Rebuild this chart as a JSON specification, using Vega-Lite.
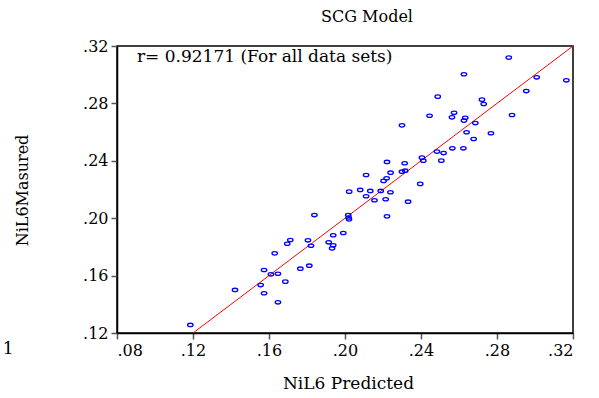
{
  "$schema": "https://vega.github.io/schema/vega-lite/v6.json",
  "autosize": {"type": "none"},
  "width": 456,
  "height": 287,
  "padding": {"left": 117, "top": 46, "right": 26, "bottom": 65},
  "background": "white",
  "title": {"text": "SCG Model", "font": "DejaVu Serif", "fontSize": 16, "fontWeight": "normal", "color": "#000", "anchor": "middle", "dx": 22, "offset": 13},
  "config": {
    "view": {"stroke": "#000", "strokeWidth": 1.5},
    "axis": {"labelFont": "DejaVu Serif", "labelFontSize": 16, "labelColor": "#000", "titleFont": "DejaVu Serif", "titleFontSize": 17, "titleFontWeight": "normal", "titleColor": "#000", "grid": false, "domainColor": "#000", "domainWidth": 1.5, "tickColor": "#555", "tickWidth": 1.5, "tickSize": 6}
  },
  "layer": [
    {
      "data": {"values": [{"px": 0.12, "my": 0.12}, {"px": 0.32, "my": 0.32}]},
      "mark": {"type": "line", "color": "#ff0000", "strokeWidth": 1, "clip": true},
      "encoding": {
        "x": {"field": "px", "type": "quantitative", "scale": {"domain": [0.08, 0.32], "nice": false, "zero": false},
          "axis": {"values": [0.08, 0.12, 0.16, 0.2, 0.24, 0.28, 0.32], "labelExpr": "replace(format(datum.value, '.2f'), '0.', '.')", "title": "NiL6 Predicted", "titleX": 231, "titleY": 50, "titleBaseline": "middle", "labelPadding": 3}},
        "y": {"field": "my", "type": "quantitative", "scale": {"domain": [0.12, 0.32], "nice": false, "zero": false},
          "axis": {"values": [0.12, 0.16, 0.2, 0.24, 0.28, 0.32], "labelExpr": "replace(format(datum.value, '.2f'), '0.', '.')", "title": "NiL6Masured", "titleFontSize": 16, "titleX": -95, "titleY": 144, "titleBaseline": "middle", "titleAngle": -90, "labelPadding": 3}}
      }
    },
    {
      "data": {"values": [
        {"px": 0.1186, "my": 0.1256}, {"px": 0.1421, "my": 0.150}, {"px": 0.1556, "my": 0.1534}, {"px": 0.1574, "my": 0.1477},
        {"px": 0.1574, "my": 0.1639}, {"px": 0.161, "my": 0.1609}, {"px": 0.1647, "my": 0.1613}, {"px": 0.1647, "my": 0.1414},
        {"px": 0.1686, "my": 0.1558}, {"px": 0.163, "my": 0.1755}, {"px": 0.1696, "my": 0.1822}, {"px": 0.1712, "my": 0.1848},
        {"px": 0.1765, "my": 0.1648}, {"px": 0.1812, "my": 0.1669}, {"px": 0.1805, "my": 0.1846}, {"px": 0.1821, "my": 0.1808},
        {"px": 0.1839, "my": 0.2022}, {"px": 0.1914, "my": 0.1832}, {"px": 0.1938, "my": 0.1881}, {"px": 0.1938, "my": 0.1811},
        {"px": 0.1932, "my": 0.179}, {"px": 0.1991, "my": 0.1897}, {"px": 0.2017, "my": 0.2022}, {"px": 0.2019, "my": 0.2005},
        {"px": 0.2021, "my": 0.1992}, {"px": 0.2022, "my": 0.2185}, {"px": 0.208, "my": 0.2197}, {"px": 0.2133, "my": 0.219},
        {"px": 0.2111, "my": 0.2153}, {"px": 0.2155, "my": 0.2125}, {"px": 0.2188, "my": 0.219}, {"px": 0.2239, "my": 0.2181},
        {"px": 0.2214, "my": 0.2132}, {"px": 0.2221, "my": 0.2013}, {"px": 0.2332, "my": 0.2115}, {"px": 0.2396, "my": 0.2239},
        {"px": 0.2203, "my": 0.226}, {"px": 0.2862, "my": 0.3119}, {"px": 0.2626, "my": 0.3003}, {"px": 0.3009, "my": 0.2982},
        {"px": 0.3165, "my": 0.2961}, {"px": 0.2954, "my": 0.2886}, {"px": 0.2488, "my": 0.2847}, {"px": 0.2721, "my": 0.2826},
        {"px": 0.273, "my": 0.2796}, {"px": 0.2879, "my": 0.2719}, {"px": 0.2445, "my": 0.2714}, {"px": 0.2574, "my": 0.2735},
        {"px": 0.2563, "my": 0.2703}, {"px": 0.2633, "my": 0.27}, {"px": 0.2626, "my": 0.268}, {"px": 0.2686, "my": 0.2663},
        {"px": 0.23, "my": 0.2647}, {"px": 0.264, "my": 0.2599}, {"px": 0.2768, "my": 0.2592}, {"px": 0.2677, "my": 0.2552},
        {"px": 0.2484, "my": 0.2464}, {"px": 0.2519, "my": 0.2454}, {"px": 0.2565, "my": 0.2487}, {"px": 0.2623, "my": 0.2487},
        {"px": 0.2507, "my": 0.2401}, {"px": 0.2405, "my": 0.2422}, {"px": 0.2412, "my": 0.2401}, {"px": 0.2221, "my": 0.2392},
        {"px": 0.2314, "my": 0.2383}, {"px": 0.23, "my": 0.2324}, {"px": 0.2317, "my": 0.2331}, {"px": 0.224, "my": 0.2317},
        {"px": 0.2111, "my": 0.2301}, {"px": 0.2219, "my": 0.2278}
      ]},
      "mark": {"type": "point", "shape": "M -1 0 A 1 0.62 0 1 0 1 0 A 1 0.62 0 1 0 -1 0 Z", "size": 30, "filled": false, "stroke": "#0000ff", "strokeWidth": 1.3, "opacity": 1},
      "encoding": {
        "x": {"field": "px", "type": "quantitative"},
        "y": {"field": "my", "type": "quantitative"}
      }
    },
    {
      "data": {"values": [
        {"px": 0.0905, "my": 0.3122, "label": "r= 0.92171 (For all data sets)"},
        {"px": 0.0199, "my": 0.1089, "label": "1"}
      ]},
      "mark": {"type": "text", "font": "DejaVu Serif", "fontSize": 17, "color": "#000", "align": "left", "baseline": "middle", "clip": false},
      "encoding": {
        "x": {"field": "px", "type": "quantitative"},
        "y": {"field": "my", "type": "quantitative"},
        "text": {"field": "label"}
      }
    }
  ]
}
